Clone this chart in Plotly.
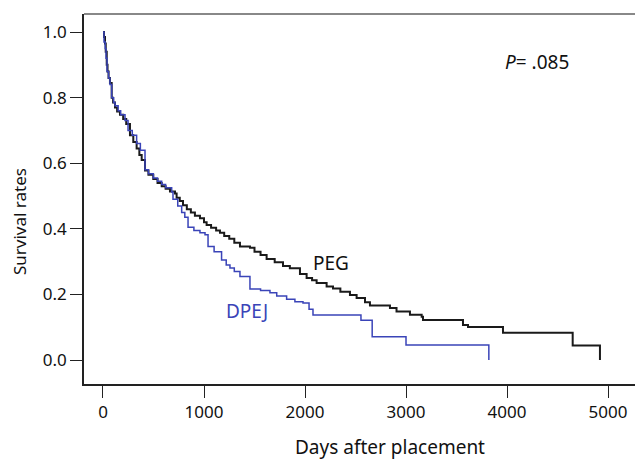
import plotly.graph_objects as go

# Kaplan-Meier step data (days after placement, survival rate)
peg_days = [0, 10, 20, 27, 37, 45, 55, 69, 86, 100, 119, 140, 168, 200, 230, 267, 300, 333, 360, 383,
            416, 450, 498, 540, 581, 620, 663, 713, 729, 760, 792, 830, 870, 910, 960, 1000, 1026, 1070,
            1120, 1158, 1200, 1250, 1300, 1356, 1455, 1500, 1560, 1620, 1700, 1782, 1850, 1950, 2016,
            2070, 2115, 2214, 2277, 2350, 2445, 2511, 2594, 2643, 2841, 2906, 3039, 3155, 3168, 3564,
            3614, 3960, 4650, 4920, 4920]
peg_surv = [1.0, 0.985, 0.965, 0.94, 0.9, 0.88, 0.86, 0.845, 0.80, 0.785, 0.77, 0.758, 0.748, 0.735, 0.72,
            0.685, 0.665, 0.645, 0.625, 0.61, 0.578, 0.565, 0.552, 0.54, 0.53, 0.522, 0.514, 0.508, 0.495,
            0.485, 0.472, 0.46, 0.45, 0.44, 0.432, 0.42, 0.412, 0.403, 0.395, 0.388, 0.378, 0.37, 0.358,
            0.346, 0.342, 0.33, 0.32, 0.308, 0.298, 0.287, 0.28, 0.262, 0.25, 0.243, 0.235, 0.224, 0.218,
            0.208, 0.198, 0.189, 0.176, 0.166, 0.159, 0.148, 0.138, 0.132, 0.122, 0.107, 0.101, 0.083,
            0.044, 0.044, 0.0]

dpej_days = [0, 10, 22, 30, 40, 55, 69, 86, 105, 119, 150, 175, 218, 248, 290, 333, 370, 416, 450, 498,
             540, 581, 620, 680, 693, 740, 779, 810, 842, 900, 960, 1010, 1040, 1100, 1174, 1220, 1257,
             1300, 1356, 1455, 1560, 1653, 1720, 1818, 1900, 1980, 2040, 2079, 2554, 2665, 3000, 3820,
             3820]
dpej_surv = [1.0, 0.97, 0.95, 0.92, 0.88, 0.86, 0.84, 0.80, 0.785, 0.775, 0.76, 0.748, 0.73, 0.70, 0.685,
             0.66, 0.64, 0.58, 0.568, 0.555, 0.545, 0.535, 0.525, 0.512, 0.49, 0.47, 0.45, 0.435, 0.405,
             0.395, 0.388, 0.382, 0.346, 0.33, 0.305, 0.29, 0.281, 0.27, 0.255, 0.217, 0.212, 0.205,
             0.195, 0.185, 0.178, 0.174, 0.155, 0.137, 0.121, 0.071, 0.046, 0.046, 0.0]

x_ticks = [0, 1000, 2000, 3000, 4000, 5000]
y_ticks = [0.0, 0.2, 0.4, 0.6, 0.8, 1.0]
y_tick_labels = ["0.0", "0.2", "0.4", "0.6", "0.8", "1.0"]

BLUE = "#3a44b8"
FONT = "Noto Sans"

fig = go.Figure()
fig.add_trace(go.Scatter(x=peg_days, y=peg_surv, mode="lines", line=dict(color="#1a1a1a", width=2, shape="hv"),
                         name="PEG", showlegend=False, hoverinfo="skip"))
fig.add_trace(go.Scatter(x=dpej_days, y=dpej_surv, mode="lines", line=dict(color=BLUE, width=1.5, shape="hv"),
                         name="DPEJ", showlegend=False, hoverinfo="skip"))

fig.add_annotation(x=2257, y=0.296, text="PEG", showarrow=False, font=dict(family=FONT, size=19, color="#111"))
fig.add_annotation(x=1425, y=0.15, text="DPEJ", showarrow=False, font=dict(family=FONT, size=19, color=BLUE))
fig.add_annotation(x=4300, y=0.91, text="<i>P</i>= .085", showarrow=False, font=dict(family=FONT, size=19, color="#111"))

# axis titles
fig.add_annotation(xref="paper", yref="paper", x=0.555, y=-0.170, text="Days after placement",
                   showarrow=False, xanchor="center", yanchor="middle",
                   font=dict(family=FONT, size=19, color="#111"))
fig.add_annotation(xref="paper", yref="paper", x=-0.116, y=0.438, text="Survival rates", textangle=-90,
                   showarrow=False, xanchor="center", yanchor="middle",
                   font=dict(family=FONT, size=17, color="#111"))

fig.add_shape(type="line", xref="paper", yref="paper", x0=0, x1=1, y0=1, y1=1,
              line=dict(color="#888888", width=2))

fig.update_layout(
    width=635, height=460,
    margin=dict(l=84, r=0, t=14, b=76),
    paper_bgcolor="white", plot_bgcolor="white",
    font=dict(family=FONT, size=17, color="#111"),
    xaxis=dict(range=[-188, 5267], tickvals=x_ticks, showgrid=False, zeroline=False,
               showline=True, linecolor="#222", linewidth=1.5, ticks="outside", ticklen=12,
               tickcolor="#222", tickwidth=1.2, tickfont=dict(size=17)),
    yaxis=dict(range=[-0.073, 1.055], tickvals=y_ticks, ticktext=y_tick_labels, showgrid=False,
               zeroline=False, showline=True, linecolor="#222", linewidth=1.5, ticks="outside",
               ticklen=12, tickcolor="#222", tickwidth=1.2, tickfont=dict(size=17)),
)

fig.write_html("out.html", config={"displayModeBar": False},
               post_script="document.body.style.margin='0';document.body.style.overflow='hidden';")
